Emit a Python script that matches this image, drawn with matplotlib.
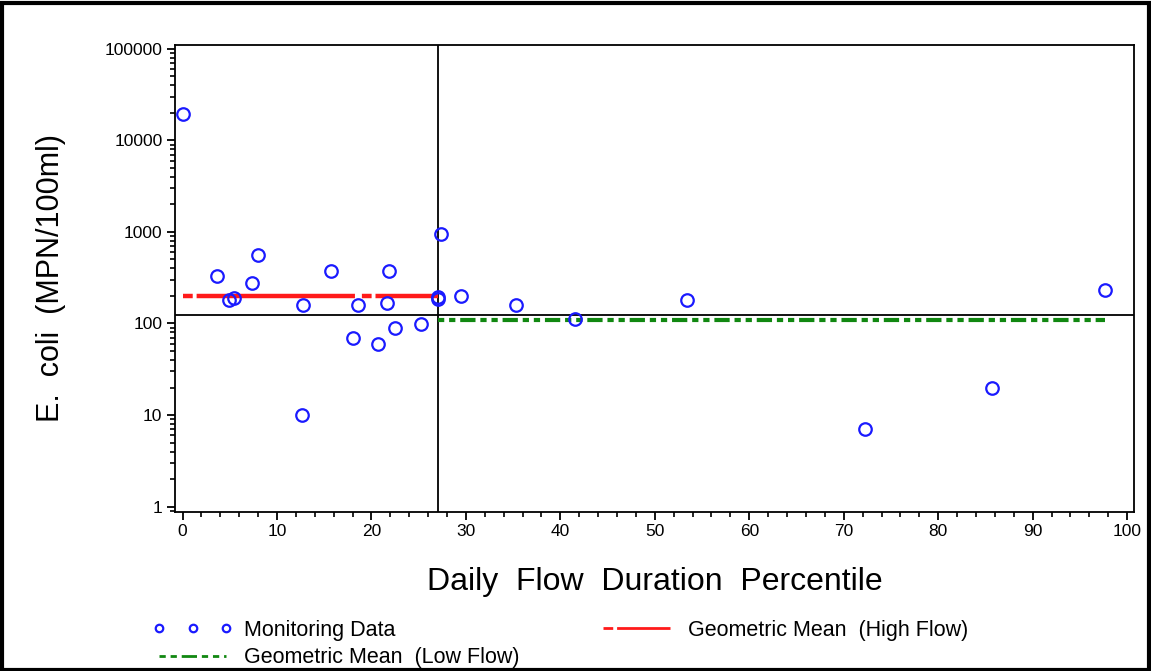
import numpy as np
import matplotlib
matplotlib.use("Agg")
import matplotlib.pyplot as plt
from matplotlib.patches import Rectangle
from matplotlib.ticker import LogLocator, MultipleLocator, FixedLocator, NullFormatter

# ---------- DATA ----------
pct = [0.0, 3.6, 4.9, 5.4, 7.4, 8.0, 12.6, 12.8, 15.7, 18.1, 18.6, 20.7,
       21.7, 21.9, 22.5, 25.3, 27.1, 27.1, 27.4, 29.5, 35.3, 41.6, 53.4,
       72.2, 85.7, 97.7]
ecoli = [19500, 333, 181, 191, 275, 555, 10, 158, 377, 69, 158, 60,
         169, 377, 90, 99, 196, 184, 948, 201, 158, 112, 180,
         7, 20, 232]

split_pct = 27.1          # high / low flow boundary
ref_value = 125           # horizontal reference line
gm_high = 201             # geometric mean, high flow
gm_low = 110              # geometric mean, low flow
x_ticks = [0, 10, 20, 30, 40, 50, 60, 70, 80, 90, 100]
y_ticks = [1, 10, 100, 1000, 10000, 100000]
y_tick_labels = ["1", "10", "100", "1000", "10000", "100000"]

# ---------- STYLE ----------
plt.rcParams["font.family"] = ["Liberation Sans", "DejaVu Sans"]
plt.rcParams["lines.scale_dashes"] = False

fig = plt.figure(figsize=(11.51, 6.71), dpi=100)
ax = fig.add_axes([0.152, 0.237, 0.833, 0.696])

# reference lines
ax.axvline(split_pct, color="black", lw=1.3, zorder=2)
ax.axhline(ref_value, color="black", lw=1.3, zorder=2)

# geometric means
high, = ax.plot([min(pct), split_pct], [gm_high, gm_high], color="#ff1a1a",
                lw=3.2, dashes=(7, 2.8, 114, 5), zorder=3,
                label="Geometric Mean  (High Flow)")
low, = ax.plot([split_pct, max(pct)], [gm_low, gm_low], color="#118811",
               lw=3.0, dashes=(4.5, 3.5, 4.5, 3.5, 11, 3.5), zorder=3,
               label="Geometric Mean  (Low Flow)")

# monitoring data
pts, = ax.plot(pct, ecoli, ls="none", marker="o", ms=9, mfc="none",
               mec="#1a1aff", mew=1.6, zorder=4, label="Monitoring Data")

ax.set_yscale("log")
ax.set_xlim(-0.8, 100.7)
ax.set_ylim(0.875, 1.1e5)

ax.xaxis.set_major_locator(FixedLocator(x_ticks))
ax.xaxis.set_minor_locator(MultipleLocator(2))
ax.yaxis.set_major_locator(FixedLocator(y_ticks))
ax.set_yticklabels(y_tick_labels)
ax.yaxis.set_minor_locator(LogLocator(base=10, subs=np.arange(2, 10)))
ax.yaxis.set_minor_formatter(NullFormatter())

ax.tick_params(which="major", direction="out", length=6, width=1.3,
               labelsize=12.5, colors="black")
ax.tick_params(which="minor", direction="out", length=3.5, width=1.2)
ax.tick_params(axis="x", pad=3)
ax.tick_params(axis="y", pad=3)
for s in ax.spines.values():
    s.set_linewidth(1.3)

ax.set_xlabel("Daily  Flow  Duration  Percentile", fontsize=23, labelpad=20)
ax.set_ylabel("E.  coli  (MPN/100ml)", fontsize=22, labelpad=28)

leg = fig.legend(handles=[pts, low, high], loc="upper left",
                 bbox_to_anchor=(0.116, 0.105), ncol=2, frameon=False,
                 numpoints=3, markerscale=0.6, handlelength=3.7,
                 handletextpad=0.55, columnspacing=3.55, labelspacing=0.3,
                 fontsize=15.5)
for ln in leg.get_lines():
    ln.set_linewidth(2)

# border around the whole picture
fig.patches.append(Rectangle((0.002, 0.002), 0.996, 0.994, transform=fig.transFigure,
                             fill=False, lw=3, ec="black"))

fig.savefig("out.png", dpi=100)
